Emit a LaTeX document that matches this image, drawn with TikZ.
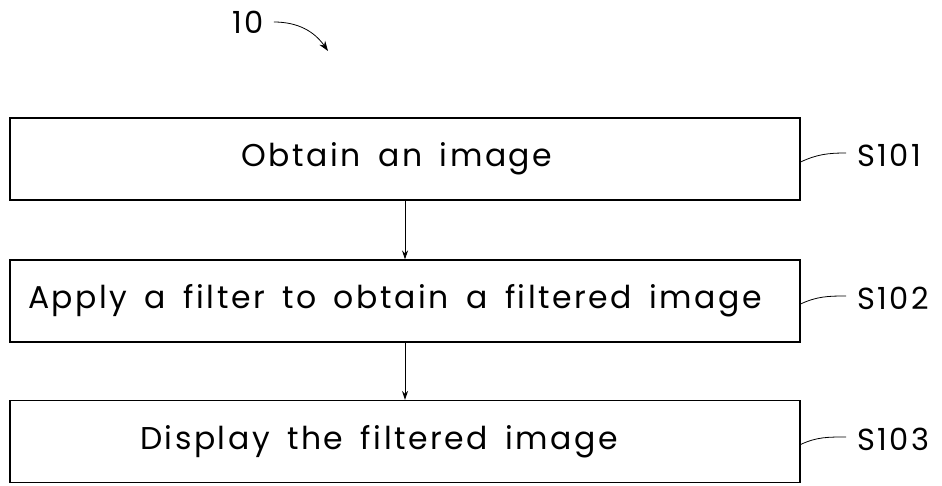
\documentclass[tikz,border=0pt]{standalone}
\usepackage{fontspec}
\setmainfont{Poppins}[LetterSpace=8, WordSpace=1.6]
\usetikzlibrary{arrows.meta, calc}

\tikzset{
    stepbox/.style={draw, line width=1.1pt, minimum width=790pt, minimum height=82pt, inner sep=0pt, font=\fontsize{31.5}{32}\selectfont, execute at end node=\hspace*{#1}},
    stepbox/.default=20pt,
    steplabel/.style={font=\fontsize{30.5}{31}\selectfont, inner sep=0pt, anchor=west},
    leader/.style={line width=0.8pt}
}

\begin{document}
\begin{tikzpicture}[x=1pt, y=-1pt]

    \useasboundingbox (0, 0) rectangle (942, 485);

    \node[stepbox=16pt] (s101) at (405, 159) {Obtain an image};
    \node[stepbox] (s102) at (405, 301) {Apply a filter to obtain a filtered image};
    \node[stepbox=52pt] (s103) at (405, 441.5) {Display the filtered image};

    \draw[-{Stealth[length=9pt, width=6pt]}, line width=1pt] (s101) -- (s102);
    \draw[-{Stealth[length=9pt, width=6pt]}, line width=1pt] (s102) -- (s103);

    \node[steplabel] (l101) at (857, 155) {S101};
    \node[steplabel] (l102) at (857, 298) {S102};
    \node[steplabel] (l103) at (857, 439) {S103};

    \draw[leader] ($(s101.east) + (0, 3)$) to[out=25, in=180] ($(l101.west) + (-11, -2)$);
    \draw[leader] ($(s102.east) + (0, 3)$) to[out=25, in=180] ($(l102.west) + (-11, -2)$);
    \draw[leader] ($(s103.east) + (0, 3)$) to[out=25, in=180] ($(l103.west) + (-11, -2)$);

    \node[steplabel, anchor=center] (fig) at (248, 22) {10};
    \coordinate (tip) at (328, 51);
    \draw[-{Stealth[length=10pt, width=7pt]}, line width=0.8pt] (fig.east) ++(10, 0) to[out=0, in=125] (tip);

\end{tikzpicture}
\end{document}
